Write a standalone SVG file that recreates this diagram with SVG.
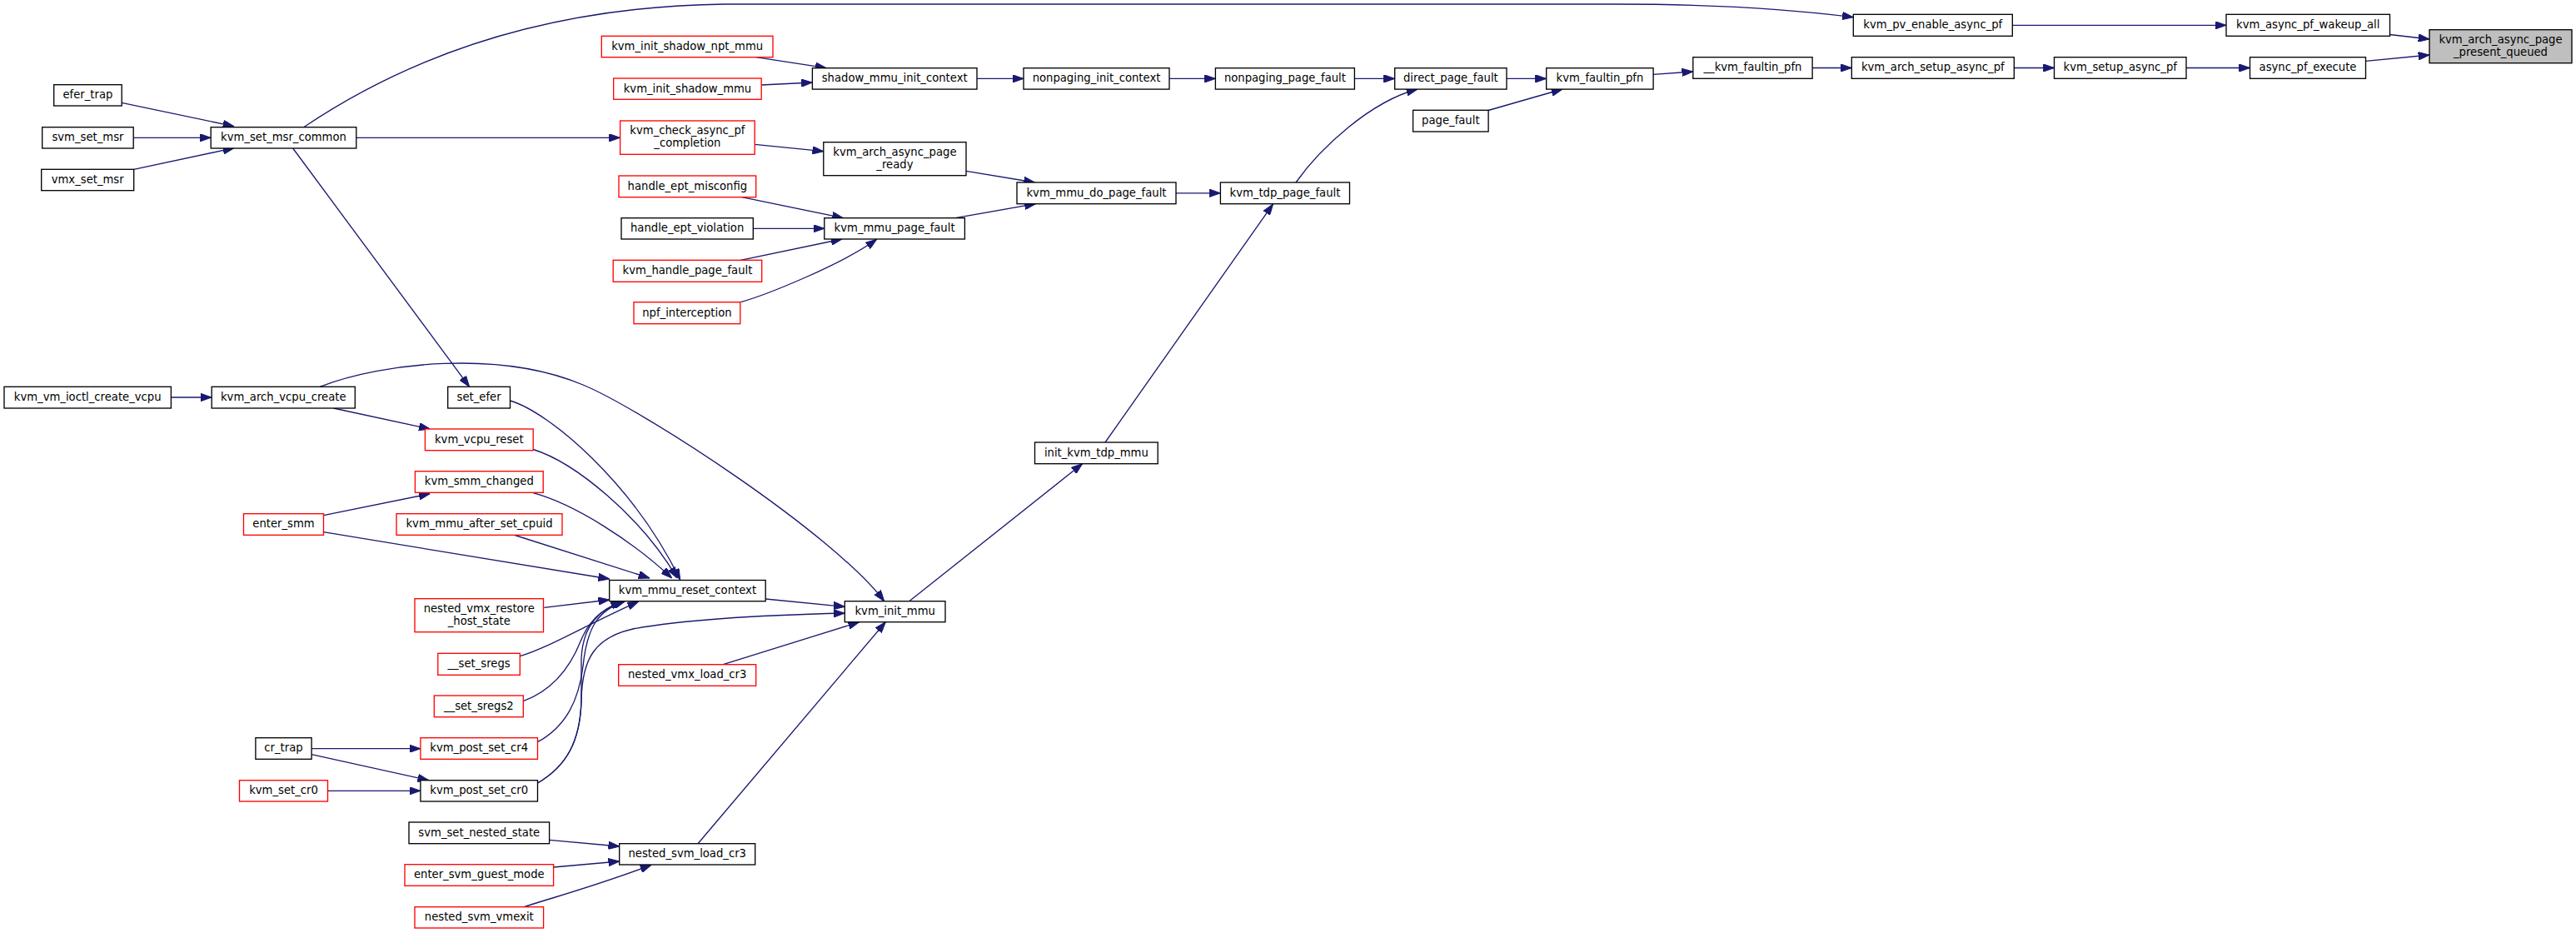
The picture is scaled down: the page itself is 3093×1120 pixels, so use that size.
<svg xmlns="http://www.w3.org/2000/svg" width="3093" height="1120" viewBox="0 0 3093 1120">
<style>
rect{fill:#ffffff;stroke:#000000;stroke-width:1.33}
.red rect{stroke:#ff0000}
.root rect{fill:#bfbfbf}
text{font-family:"DejaVu Sans","Liberation Sans",sans-serif;font-size:13.2px;text-anchor:middle;fill:#000000}
#edges path{fill:none;stroke:#191970;stroke-width:1.33;marker-end:url(#arr)}
</style>
<defs>
<marker id="arr" markerUnits="userSpaceOnUse" viewBox="0 0 13.3 9.4" markerWidth="13.3" markerHeight="9.4" refX="13.3" refY="4.7" orient="auto">
<path d="M0,0 L13.3,4.7 L0,9.4 z" fill="#191970" stroke="#191970" stroke-width="1"/>
</marker>
</defs>
<rect x="0" y="0" width="3093" height="1120" style="fill:#ffffff;stroke:none"/>
<g id="edges">
<path d="M2869.5,41.5 L2917,47"/>
<path d="M2840.5,73.3 L2917,66"/>
<path d="M2416,30.3 L2673,30.3"/>
<path d="M2625,81.5 L2701.5,81.5"/>
<path d="M2418.3,81.5 L2466.5,81.5"/>
<path d="M2176,81.5 L2223.3,81.5"/>
<path d="M1985,89.3 L2032.8,86"/>
<path d="M1809,94.4 L1856.7,94.4"/>
<path d="M1787,132.5 L1876,107"/>
<path d="M1626.4,94.4 L1674.7,94.4"/>
<path d="M1556,219 C1585,178 1645,122 1702,107"/>
<path d="M1404,94.4 L1459.4,94.4"/>
<path d="M1173,94.4 L1229,94.4"/>
<path d="M907.7,68.7 L992.3,81.7"/>
<path d="M914.2,102 L975.4,99"/>
<path d="M906.2,173.3 L988.8,181.7"/>
<path d="M1160,205.3 L1242.5,219"/>
<path d="M1147,261.7 L1243.5,244.7"/>
<path d="M1412,231.8 L1465.4,231.8"/>
<path d="M890.8,236.7 L1012.5,261.7"/>
<path d="M904.3,274.3 L989.8,274.3"/>
<path d="M889.3,312.3 L1011,287"/>
<path d="M889.3,362.7 C920,354 1010,318 1052.6,287.3"/>
<path d="M1327,531 L1528.5,245"/>
<path d="M1091.7,721.7 L1299.6,556.7"/>
<path d="M364.6,152.7 C480,75 640,8 870,5 L1940,5 C2050,5 2150,11 2225.3,20.7"/>
<path d="M427.8,165.3 L744.6,165.3"/>
<path d="M351.7,178 L563.6,464.3"/>
<path d="M146.2,123.3 L281,151.7"/>
<path d="M160.2,165.3 L253.2,165.3"/>
<path d="M160.7,203.3 L281,177.7"/>
<path d="M205.4,477 L254.2,477"/>
<path d="M400.4,490 L516.3,515"/>
<path d="M384,464.3 C460,435 600,420 700,462 C770,491 1000,640 1061.7,721.7"/>
<path d="M612.5,481 C660,495 760,580 816.7,696"/>
<path d="M640.2,539.5 C690,555 770,620 813,694"/>
<path d="M640,591.7 C690,605 760,650 806.7,694"/>
<path d="M616.7,642 L780,694"/>
<path d="M388.5,638.7 L731.7,695"/>
<path d="M388.5,618.7 L516.3,592.7"/>
<path d="M653.3,729.3 L731.7,720"/>
<path d="M624.3,787.7 C660,777 700,752 766.7,722"/>
<path d="M628.3,841.7 C665,828 685,800 697,770 C710,738 730,728 750,722"/>
<path d="M645.5,890.7 C680,872 695,840 700,800 C705,750 720,732 750,722"/>
<path d="M645.5,940 C680,920 697,890 698,840 L698,790 C700,750 720,732 746.7,722"/>
<path d="M645.5,940 C680,920 697,890 698,840 C699,790 715,765 760,755 C830,742 930,738 1014.3,736"/>
<path d="M919.2,719 L1014.3,728.3"/>
<path d="M868.3,797.7 L1031.7,746.7"/>
<path d="M838,1012.7 L1063.3,746.7"/>
<path d="M659.6,1008.3 L743.7,1016"/>
<path d="M664.6,1041 L743.7,1034"/>
<path d="M629.3,1088.7 C665,1077 720,1062 782,1038.3"/>
<path d="M374.1,898.7 L504.9,898.7"/>
<path d="M374,905.7 L514.8,936.7"/>
<path d="M393.5,949.3 L504.9,949.3"/>
</g>
<g id="n_root" class="root"><rect x="2917" y="35.7" width="171" height="40"/><text x="3002.5" y="52">kvm_arch_async_page</text><text x="3002.5" y="67">_present_queued</text></g>
<g id="n_wakeup_all"><rect x="2673" y="17.3" width="196.5" height="26"/><text x="2771.25" y="34.1">kvm_async_pf_wakeup_all</text></g>
<g id="n_async_pf_execute"><rect x="2701.5" y="68.7" width="139" height="25.6"/><text x="2771" y="85.3">async_pf_execute</text></g>
<g id="n_pv_enable"><rect x="2225.3" y="17.3" width="191" height="26"/><text x="2320.8" y="34.1">kvm_pv_enable_async_pf</text></g>
<g id="n_setup_async_pf"><rect x="2466.5" y="68.7" width="158.5" height="25.6"/><text x="2545.75" y="85.3">kvm_setup_async_pf</text></g>
<g id="n_arch_setup"><rect x="2223.3" y="68.7" width="195" height="25.6"/><text x="2320.8" y="85.3">kvm_arch_setup_async_pf</text></g>
<g id="n___faultin"><rect x="2032.8" y="68.7" width="143.3" height="25.6"/><text x="2104.45" y="85.3">__kvm_faultin_pfn</text></g>
<g id="n_faultin"><rect x="1856.7" y="81.7" width="128.4" height="25.4"/><text x="1920.9" y="98.2">kvm_faultin_pfn</text></g>
<g id="n_direct"><rect x="1674.7" y="81.7" width="134.3" height="25.4"/><text x="1741.85" y="98.2">direct_page_fault</text></g>
<g id="n_page_fault"><rect x="1696.6" y="132.3" width="90.5" height="25.7"/><text x="1741.85" y="149">page_fault</text></g>
<g id="n_nonpaging_pf"><rect x="1459.4" y="81.7" width="167" height="25.4"/><text x="1542.9" y="98.2">nonpaging_page_fault</text></g>
<g id="n_nonpaging_init"><rect x="1229" y="81.7" width="175" height="25.4"/><text x="1316.5" y="98.2">nonpaging_init_context</text></g>
<g id="n_shadow_init"><rect x="975.4" y="81.7" width="197.6" height="25.4"/><text x="1074.2" y="98.2">shadow_mmu_init_context</text></g>
<g id="n_init_shadow_npt" class="red"><rect x="722.3" y="43.3" width="205.7" height="25.4"/><text x="825.15" y="59.8">kvm_init_shadow_npt_mmu</text></g>
<g id="n_init_shadow" class="red"><rect x="736.7" y="94" width="177.5" height="25.3"/><text x="825.45" y="110.5">kvm_init_shadow_mmu</text></g>
<g id="n_check_async" class="red"><rect x="744.6" y="145" width="161.6" height="40.3"/><text x="825.4" y="161.4">kvm_check_async_pf</text><text x="825.4" y="176.4">_completion</text></g>
<g id="n_async_ready"><rect x="988.8" y="170.7" width="171.2" height="40"/><text x="1074.4" y="187">kvm_arch_async_page</text><text x="1074.4" y="202">_ready</text></g>
<g id="n_ept_misconfig" class="red"><rect x="743" y="211" width="164.7" height="25.7"/><text x="825.35" y="227.6">handle_ept_misconfig</text></g>
<g id="n_do_pf"><rect x="1221" y="219" width="191" height="25.7"/><text x="1316.5" y="235.6">kvm_mmu_do_page_fault</text></g>
<g id="n_tdp_pf"><rect x="1465.4" y="219" width="155.1" height="25.7"/><text x="1542.95" y="235.6">kvm_tdp_page_fault</text></g>
<g id="n_ept_violation"><rect x="746" y="261.7" width="158.3" height="25.3"/><text x="825.15" y="278.1">handle_ept_violation</text></g>
<g id="n_mmu_pf"><rect x="989.8" y="261.7" width="168.6" height="25.3"/><text x="1074.1" y="278.1">kvm_mmu_page_fault</text></g>
<g id="n_handle_pf" class="red"><rect x="736.2" y="312.3" width="178.5" height="26"/><text x="825.45" y="329.1">kvm_handle_page_fault</text></g>
<g id="n_npf" class="red"><rect x="761" y="362.7" width="127.8" height="26"/><text x="824.9" y="379.5">npf_interception</text></g>
<g id="n_set_msr_common"><rect x="253.2" y="152.7" width="174.6" height="25.3"/><text x="340.5" y="169.1">kvm_set_msr_common</text></g>
<g id="n_efer_trap"><rect x="64.7" y="101.7" width="81.5" height="25.3"/><text x="105.45" y="118.1">efer_trap</text></g>
<g id="n_svm_set_msr"><rect x="50.7" y="152.7" width="109.5" height="25.3"/><text x="105.45" y="169.1">svm_set_msr</text></g>
<g id="n_vmx_set_msr"><rect x="49.7" y="203.3" width="111" height="25.4"/><text x="105.2" y="219.8">vmx_set_msr</text></g>
<g id="n_ioctl_create"><rect x="5" y="464.3" width="200.4" height="25.7"/><text x="105.2" y="481">kvm_vm_ioctl_create_vcpu</text></g>
<g id="n_vcpu_create"><rect x="254.2" y="464.3" width="172.1" height="25.7"/><text x="340.25" y="481">kvm_arch_vcpu_create</text></g>
<g id="n_set_efer"><rect x="537.7" y="464.3" width="74.8" height="25.7"/><text x="575.1" y="481">set_efer</text></g>
<g id="n_vcpu_reset" class="red"><rect x="510.4" y="515" width="129.8" height="25.7"/><text x="575.3" y="531.6">kvm_vcpu_reset</text></g>
<g id="n_smm_changed" class="red"><rect x="498.4" y="565.7" width="153.8" height="25.6"/><text x="575.3" y="582.3">kvm_smm_changed</text></g>
<g id="n_enter_smm" class="red"><rect x="292.5" y="616.7" width="96" height="25.6"/><text x="340.5" y="633.3">enter_smm</text></g>
<g id="n_after_cpuid" class="red"><rect x="476" y="616.7" width="199" height="25.6"/><text x="575.5" y="633.3">kvm_mmu_after_set_cpuid</text></g>
<g id="n_reset_ctx"><rect x="731.7" y="696.5" width="187.5" height="25.2"/><text x="825.45" y="712.9">kvm_mmu_reset_context</text></g>
<g id="n_vmx_restore" class="red"><rect x="498" y="718.7" width="154.5" height="40"/><text x="575.25" y="735">nested_vmx_restore</text><text x="575.25" y="750">_host_state</text></g>
<g id="n_set_sregs" class="red"><rect x="525.8" y="784.3" width="98.5" height="26"/><text x="575.05" y="801.1">__set_sregs</text></g>
<g id="n_set_sregs2" class="red"><rect x="521.3" y="835" width="107" height="25.7"/><text x="574.8" y="851.6">__set_sregs2</text></g>
<g id="n_cr_trap"><rect x="306.9" y="885.7" width="67.2" height="25.6"/><text x="340.5" y="902.3">cr_trap</text></g>
<g id="n_post_cr4" class="red"><rect x="504.9" y="885.7" width="140.6" height="25.6"/><text x="575.2" y="902.3">kvm_post_set_cr4</text></g>
<g id="n_set_cr0" class="red"><rect x="287.5" y="936.7" width="106" height="25.3"/><text x="340.5" y="953.1">kvm_set_cr0</text></g>
<g id="n_post_cr0"><rect x="504.9" y="936.7" width="140.6" height="25.3"/><text x="575.2" y="953.1">kvm_post_set_cr0</text></g>
<g id="n_svm_nested_state"><rect x="491" y="987" width="168.6" height="25.7"/><text x="575.3" y="1003.6">svm_set_nested_state</text></g>
<g id="n_enter_svm" class="red"><rect x="486" y="1037.7" width="178.6" height="25.6"/><text x="575.3" y="1054.3">enter_svm_guest_mode</text></g>
<g id="n_svm_vmexit" class="red"><rect x="498" y="1088.7" width="154.6" height="25.3"/><text x="575.3" y="1105.1">nested_svm_vmexit</text></g>
<g id="n_svm_load_cr3"><rect x="743.7" y="1012.7" width="163" height="25.3"/><text x="825.2" y="1029.1">nested_svm_load_cr3</text></g>
<g id="n_vmx_load_cr3" class="red"><rect x="742.7" y="797.7" width="165" height="25.6"/><text x="825.2" y="814.3">nested_vmx_load_cr3</text></g>
<g id="n_init_mmu"><rect x="1014.3" y="721.7" width="120.7" height="25"/><text x="1074.65" y="738">kvm_init_mmu</text></g>
<g id="n_init_tdp"><rect x="1242.5" y="531" width="147.7" height="25.7"/><text x="1316.35" y="547.6">init_kvm_tdp_mmu</text></g>
</svg>
